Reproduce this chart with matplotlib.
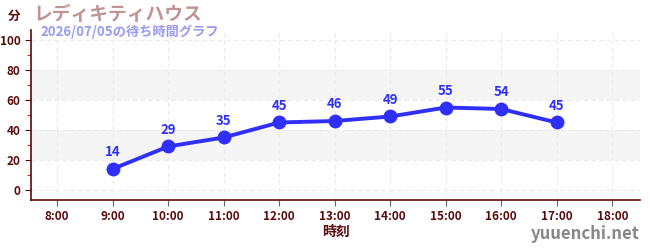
import matplotlib
matplotlib.use("Agg")
import matplotlib.pyplot as plt
from matplotlib.ticker import MultipleLocator

plt.rcParams['font.family'] = ['Noto Sans CJK JP', 'DejaVu Sans']

hours = [9, 10, 11, 12, 13, 14, 15, 16, 17]
waits = [14, 29, 35, 45, 46, 49, 55, 54, 45]
xticks = list(range(8, 19))
xticklabels = [f"{h}:00" for h in xticks]
yticks = [0, 20, 40, 60, 80, 100]

title = "レディキティハウス"
subtitle = "2026/07/05の待ち時間グラフ"

fig = plt.figure(figsize=(6.5, 2.5), dpi=100)
ax = fig.add_axes([0.0477, 0.2, 0.937, 0.68])

axis_col = '#5a0a0a'
line_col = '#2f2ff8'

ax.set_xlim(7.53, 18.5)
ax.set_ylim(-6.7, 106.7)

for lo, hi in [(20, 40), (60, 80)]:
    ax.axhspan(lo, hi, color='#f5f5f5', zorder=0, lw=0)

ax.set_xticks(xticks)
ax.set_xticklabels(xticklabels)
ax.set_yticks(yticks)
ax.yaxis.set_minor_locator(MultipleLocator(10))
ax.grid(True, which='major', color='#ebebeb', linestyle=(0, (4, 3)), linewidth=0.8)
ax.set_axisbelow(True)

for s in ['top', 'right']:
    ax.spines[s].set_visible(False)
for s in ['left', 'bottom']:
    ax.spines[s].set_color(axis_col)
    ax.spines[s].set_linewidth(1.2)

ax.tick_params(axis='both', which='major', colors=axis_col, labelsize=8.5, length=4, width=0.8)
ax.tick_params(axis='y', which='minor', colors='#dd2222', length=3, width=0.8)
ax.tick_params(axis='x', which='major', color='#666666', labelcolor=axis_col)
for lab in ax.get_xticklabels() + ax.get_yticklabels():
    lab.set_fontweight('bold')

ax.plot(hours, waits, color=line_col, linewidth=2.8, marker='o', markersize=9, zorder=3, clip_on=False)
for h, w in zip(hours, waits):
    ax.annotate(str(w), (h, w), xytext=(0, 7), textcoords='offset points',
                ha='center', va='bottom', color=line_col, fontsize=9.5, fontweight='bold')

ax.set_xlabel("時刻", color=axis_col, fontsize=10, fontweight='bold', labelpad=1)

fig.text(8 / 650, 1 - 16 / 250, "分", color=axis_col, fontsize=9, fontweight='bold', va='center', ha='left')
fig.text(33 / 650, 1 - 14 / 250, title, color='#c09494', fontsize=13.5, fontweight='bold', va='center', ha='left')
fig.text(40 / 650, 1 - 32 / 250, subtitle, color='#9a9af0', fontsize=9.5, fontweight='bold', va='center', ha='left')
fig.text(640 / 650, 1 - 234 / 250, "yuuenchi.net", color='#888888', fontsize=12, fontweight='bold', va='center', ha='right')

fig.savefig("out.png", dpi=100)
